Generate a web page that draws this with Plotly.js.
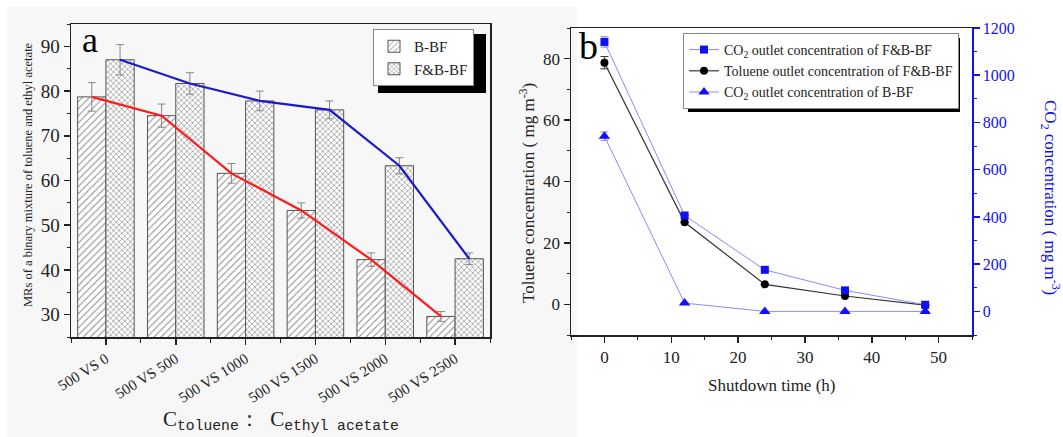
<!DOCTYPE html>
<html>
<head>
<meta charset="utf-8">
<script src="https://cdn.plot.ly/plotly-3.0.1.min.js"></script>
<style>html,body{margin:0;padding:0;background:#fff;}#chart{width:1063px;height:437px;}</style>
</head>
<body>
<div id="chart"></div>
<script>
// ---- Panel a data ----
const categories = ['500 VS 0', '500 VS 500', '500 VS 1000', '500 VS 1500', '500 VS 2000', '500 VS 2500'];
const bbfValues = [78.7, 74.5, 61.6, 53.3, 42.3, 29.6];
const bbfErrors = [3.2, 2.6, 2.2, 1.7, 1.5, 1.1];
const fbbfValues = [87.0, 81.7, 77.8, 75.8, 63.3, 42.5];
const fbbfErrors = [3.4, 2.4, 2.2, 2.0, 1.8, 1.3];

// ---- Panel b data ----
const shutdownHours = [0, 12, 24, 36, 48];
const co2FBBF = [1141, 406, 176, 89, 28];
const co2FBBFErr = [22, 0, 0, 0, 0];
const tolueneFBBF = [78.7, 26.7, 6.5, 2.7, -0.3];
const tolueneFBBFErr = [2.0, 0, 0, 0, 0];
const co2BBF = [742, 35, 0, 0, 0];
const co2BBFErr = [18, 0, 0, 0, 0];

const serif = '"Liberation Serif", "Times New Roman", serif';
const BAR_GAP = 0.19;
const idx = categories.map((_, i) => i);
const half = (1 - BAR_GAP) / 4; // half of one bar width
const blue = '#1010f0';

const traces = [
  {
    type: 'bar', name: 'B-BF', x: idx, y: bbfValues, xaxis: 'x', yaxis: 'y', legend: 'legend',
    marker: { color: 'white', line: { color: '#555', width: 1 },
      pattern: { shape: '/', fgcolor: '#888', bgcolor: 'white', size: 5, solidity: 0.2 } },
    error_y: { type: 'data', array: bbfErrors, visible: true, color: '#888', thickness: 1, width: 4 }
  },
  {
    type: 'bar', name: 'F&B-BF', x: idx, y: fbbfValues, xaxis: 'x', yaxis: 'y', legend: 'legend',
    marker: { color: 'white', line: { color: '#555', width: 1 },
      pattern: { shape: 'x', fgcolor: '#888', bgcolor: 'white', size: 4, solidity: 0.3 } },
    error_y: { type: 'data', array: fbbfErrors, visible: true, color: '#888', thickness: 1, width: 4 }
  },
  {
    type: 'scatter', mode: 'lines', x: idx.map(i => i - half), y: bbfValues, xaxis: 'x', yaxis: 'y',
    line: { color: '#ff1a1a', width: 2.2 }, showlegend: false, hoverinfo: 'skip'
  },
  {
    type: 'scatter', mode: 'lines', x: idx.map(i => i + half), y: fbbfValues, xaxis: 'x', yaxis: 'y',
    line: { color: '#1a1acc', width: 2.2 }, showlegend: false, hoverinfo: 'skip'
  },
  {
    type: 'scatter', mode: 'lines+markers', name: 'CO<sub>2</sub> outlet concentration of F&B-BF',
    x: shutdownHours, y: co2FBBF, xaxis: 'x2', yaxis: 'y3', legend: 'legend2',
    line: { color: '#8a8aff', width: 1 }, marker: { symbol: 'square', color: blue, size: 8 },
    error_y: { type: 'data', array: co2FBBFErr, visible: true, color: '#8a8aff', thickness: 1, width: 4 }
  },
  {
    type: 'scatter', mode: 'lines+markers', name: 'Toluene outlet concentration of F&B-BF',
    x: shutdownHours, y: tolueneFBBF, xaxis: 'x2', yaxis: 'y2', legend: 'legend2',
    line: { color: '#333', width: 1.2 }, marker: { symbol: 'circle', color: '#000', size: 8 },
    error_y: { type: 'data', array: tolueneFBBFErr, visible: true, color: '#333', thickness: 1, width: 4 }
  },
  {
    type: 'scatter', mode: 'lines+markers', name: 'CO<sub>2</sub> outlet concentration of B-BF',
    x: shutdownHours, y: co2BBF, xaxis: 'x2', yaxis: 'y3', legend: 'legend2',
    line: { color: '#8a8aff', width: 1 }, marker: { symbol: 'triangle-up', color: blue, size: 10 },
    error_y: { type: 'data', array: co2BBFErr, visible: true, color: '#8a8aff', thickness: 1, width: 4 }
  }
];

const W = 1063, H = 437;
const px = v => v / W, py = v => 1 - v / H;

const axisCommon = {
  showline: true, linecolor: '#222', linewidth: 1.5, showgrid: false, zeroline: false,
  ticks: 'outside', ticklen: 6, tickwidth: 1.5, tickcolor: '#222',
  tickfont: { family: serif, size: 17, color: '#222' }
};

const legendA = { x: px(373), y: py(29) };
const legendB = { x: px(683), y: py(33) };

// drop shadow rectangle offset behind a legend box
function shadowFor(pos, w, h) {
  const off = 5;
  const left = pos.x * W, top = (1 - pos.y) * H;
  return { type: 'rect', xref: 'paper', yref: 'paper',
    x0: px(left + off), x1: px(left + w + off), y0: py(top + h + off), y1: py(top + off),
    fillcolor: '#000', line: { width: 0 }, layer: 'above' };
}

const layout = {
  width: W, height: H,
  font: { family: serif },
  margin: { l: 0, r: 0, t: 0, b: 0 },
  paper_bgcolor: 'white', plot_bgcolor: 'rgba(0,0,0,0)',
  barmode: 'group', bargap: BAR_GAP, bargroupgap: 0,
  showlegend: true,
  xaxis: Object.assign({}, axisCommon, {
    domain: [px(71), px(490)], anchor: 'y', range: [-0.5, 5.5],
    tickmode: 'array', tickvals: idx, ticktext: categories, tickangle: -32, mirror: true,
    tickfont: { family: serif, size: 15, color: '#222' },
    minor: { tick0: -0.5, dtick: 1, ticks: 'outside', ticklen: 4, tickwidth: 1, tickcolor: '#222' }
  }),
  yaxis: Object.assign({}, axisCommon, {
    domain: [py(337), py(24)], anchor: 'x', range: [25, 95], dtick: 10, tick0: 0, mirror: true,
    minor: { dtick: 5, ticks: 'outside', ticklen: 3, tickwidth: 1, tickcolor: '#222' },
    tickfont: { family: serif, size: 19, color: '#222' }
  }),
  xaxis2: Object.assign({}, axisCommon, {
    domain: [px(571), px(972)], anchor: 'y2', range: [-5, 55], dtick: 10, tick0: 0, mirror: true,
    minor: { dtick: 5, ticks: 'outside', ticklen: 3, tickwidth: 1, tickcolor: '#222' }
  }),
  yaxis2: Object.assign({}, axisCommon, {
    domain: [py(335), py(28)], anchor: 'x2', range: [-10, 90], dtick: 20, tick0: 0,
    minor: { dtick: 10, ticks: 'outside', ticklen: 3, tickwidth: 1, tickcolor: '#222' }
  }),
  yaxis3: Object.assign({}, axisCommon, {
    overlaying: 'y2', side: 'right', anchor: 'x2', range: [-100, 1200], dtick: 200, tick0: 0,
    linecolor: blue, tickcolor: blue, tickfont: { family: serif, size: 16, color: blue },
    minor: { dtick: 100, ticks: 'outside', ticklen: 3, tickwidth: 1, tickcolor: blue }
  }),
  legend: {
    x: legendA.x, y: legendA.y, xanchor: 'left', yanchor: 'top',
    bgcolor: 'white', bordercolor: '#888', borderwidth: 1,
    font: { family: serif, size: 15, color: '#222' }, tracegroupgap: 0, itemwidth: 30
  },
  legend2: {
    x: legendB.x, y: legendB.y, xanchor: 'left', yanchor: 'top',
    bgcolor: 'white', bordercolor: '#888', borderwidth: 1,
    font: { family: serif, size: 14, color: '#222' }, tracegroupgap: 0, itemwidth: 30
  },
  shapes: [
    { type: 'rect', xref: 'paper', yref: 'paper', x0: px(7), x1: px(577), y0: 0, y1: py(7),
      fillcolor: '#f7f7f7', line: { width: 0 }, layer: 'below' },
    shadowFor(legendA, 108, 59),
    shadowFor(legendB, 272, 74)
  ],
  annotations: [
    { text: 'a', xref: 'paper', yref: 'paper', x: px(90), y: py(40), showarrow: false,
      xanchor: 'center', yanchor: 'middle', font: { family: serif, size: 36, color: '#000' } },
    { text: 'b', xref: 'paper', yref: 'paper', x: px(588), y: py(46), showarrow: false,
      xanchor: 'center', yanchor: 'middle', font: { family: serif, size: 38, color: '#000' } },
    { text: 'MRs of a binary mixture of toluene and ethyl acetate', xref: 'paper', yref: 'paper',
      x: px(28), y: py(175), textangle: -90, showarrow: false, xanchor: 'center', yanchor: 'middle',
      font: { family: serif, size: 12.5, color: '#222' } },
    { text: "C<sub><span style='font-family:\"Liberation Mono\", monospace'>toluene</span></sub>：  C<sub><span style='font-family:\"Liberation Mono\", monospace'>ethyl acetate</span></sub>",
      xref: 'paper', yref: 'paper', x: px(281), y: py(420), showarrow: false,
      xanchor: 'center', yanchor: 'middle', font: { family: serif, size: 21, color: '#222' } },
    { text: 'Toluene concentration ( mg m<sup>-3</sup>)', xref: 'paper', yref: 'paper',
      x: px(527), y: py(193), textangle: -90, showarrow: false, xanchor: 'center', yanchor: 'middle',
      font: { family: serif, size: 17, color: '#222' } },
    { text: 'CO<sub>2</sub> concentration ( mg m<sup>-3</sup>)', xref: 'paper', yref: 'paper',
      x: px(1051), y: py(197), textangle: 90, showarrow: false, xanchor: 'center', yanchor: 'middle',
      font: { family: serif, size: 17, color: blue } },
    { text: 'Shutdown time (h)', xref: 'paper', yref: 'paper', x: px(772), y: py(385),
      showarrow: false, xanchor: 'center', yanchor: 'middle',
      font: { family: serif, size: 17, color: '#222' } }
  ]
};

Plotly.newPlot('chart', traces, layout, { displayModeBar: false, staticPlot: true });
</script>
</body>
</html>
